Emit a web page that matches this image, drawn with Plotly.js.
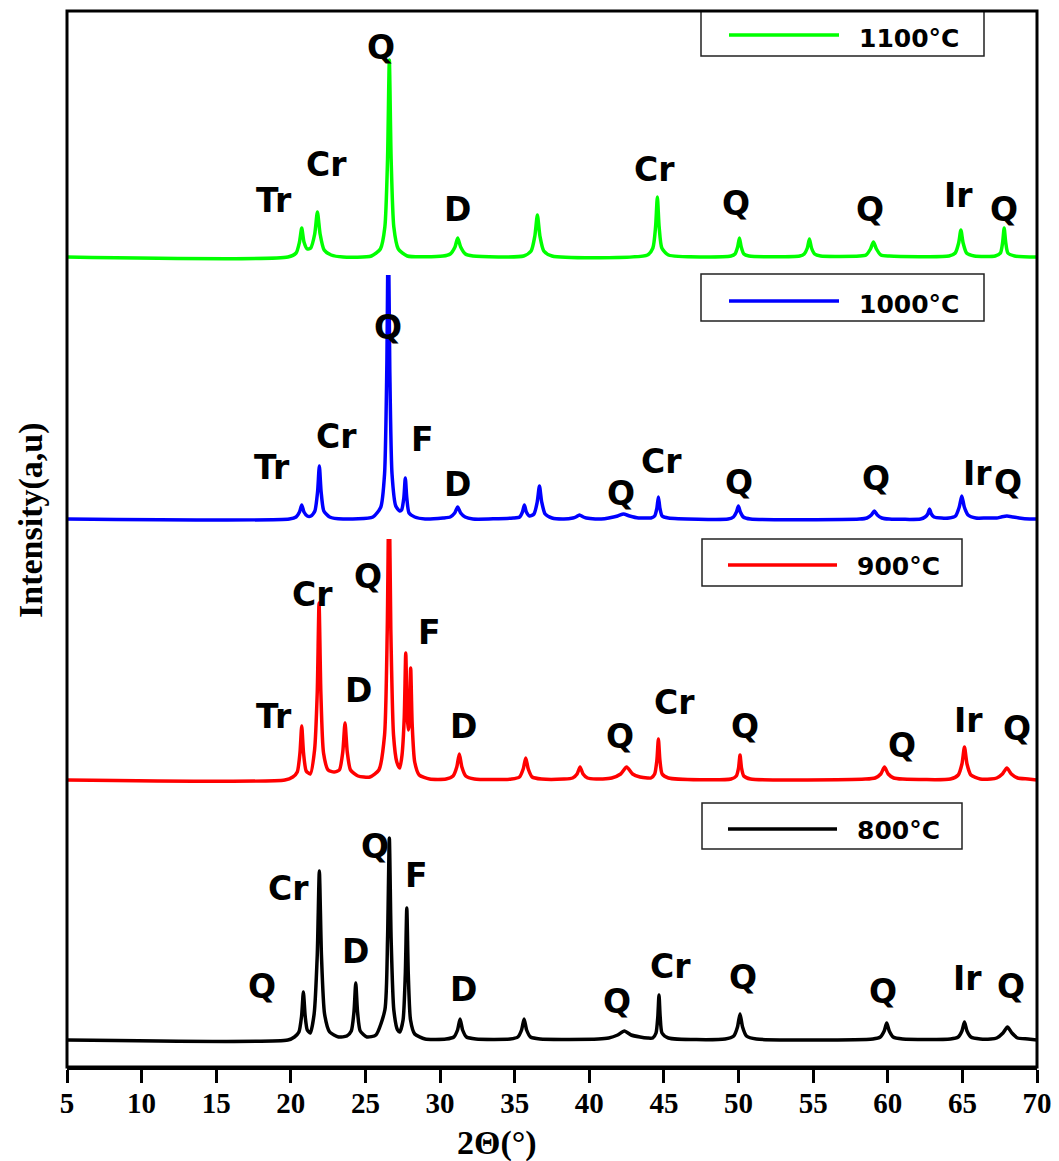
<!DOCTYPE html>
<html><head><meta charset="utf-8">
<script src="https://cdn.plot.ly/plotly-3.0.1.min.js"></script>
<style>html,body{margin:0;padding:0;background:#fff}</style>
</head><body>
<div id="chart" style="width:1059px;height:1161px"></div>
<script>
// ---------- data (2θ in degrees, intensity in a.u. above each pattern's own baseline) ----------
const angle800 = [5,19.8,20.24,20.54,20.72,20.84,20.96,21.1,21.3,
  21.56,21.77,21.91,22.05,22.26,22.6,23.2,
  23.75,24.05,24.23,24.35,24.47,24.65,25.1,
  25.7,26.3,26.48,26.6,26.72,26.9,27.15,27.3,
  27.52,27.67,27.77,27.87,28.02,28.3,29.0,
  30.4,30.92,31.17,31.34,31.51,31.77,32.4,
  34.7,35.21,35.46,35.63,35.8,36.06,36.7,
  40.6,41.3,41.9,42.35,42.8,43.4,43.9,
  44.25,44.47,44.59,44.67,44.75,44.87,45.3,
  49.1,49.68,49.93,50.1,50.27,50.53,51.2,
  59.0,59.5,59.76,59.93,60.1,60.36,61.0,
  64.2,64.72,64.97,65.14,65.31,65.57,66.2,
  66.9,67.3,67.72,68.02,68.32,68.7,69.4,70];
const int800 = [0,0,3,8,24,48,24,10,7,
  26,85,169,85,26,8,3,
  4,9,28,57,28,9,3,
  5,30,101,202,101,30,10,8,
  20,66,132,66,20,6,1,
  1,3,10,21,10,3,1,
  1,3,10,21,10,3,1,
  1,2,5,9,5,3,2,
  2,7,23,45,23,7,2,
  1,4,13,26,13,4,1,
  1,3,9,17,9,3,1,
  1,3,9,18,9,3,1,
  1,2,7,13,7,2,1,0];

const angle900 = [5,19.6,20.13,20.43,20.61,20.73,20.85,21.03,21.3,
  21.59,21.77,21.89,22.01,22.19,22.5,22.9,
  23.25,23.48,23.63,23.78,24.0,24.5,25.3,
  25.9,26.28,26.46,26.58,26.7,26.88,27.1,27.3,
  27.45,27.6,27.7,27.8,27.87,27.93,28.03,28.13,28.3,28.6,29.3,
  30.4,30.87,31.12,31.29,31.46,31.72,32.3,
  34.8,35.32,35.57,35.74,35.91,36.17,36.8,
  38.3,38.88,39.18,39.38,39.58,39.88,40.5,
  40.9,41.5,42.1,42.5,42.9,43.4,43.9,
  44.13,44.38,44.53,44.63,44.73,44.88,45.3,
  49.5,49.85,50.0,50.1,50.2,50.35,50.8,
  58.5,59.15,59.53,59.78,60.03,60.4,61.0,
  64.2,64.72,64.97,65.14,65.31,65.57,66.2,
  66.9,67.3,67.68,67.98,68.28,68.7,69.4,70];
const int900 = [0,0,3,8,27,54,27,9,6,
  30,88,177,88,27,10,8,
  10,28,57,28,10,4,3,
  10,45,150,300,150,45,18,12,
  25,63,127,63,50,56,112,56,18,5,1,
  1,4,13,26,13,4,1,
  1,3,11,22,11,3,1,
  1,2,6,13,6,2,1,
  1,2,6,13,6,3,2,
  2,6,20,41,20,6,2,
  1,4,12,25,12,4,1,
  1,2,6,13,6,2,1,
  1,5,16,33,16,5,1,
  1,2,6,12,6,2,1,0];

const angle1000 = [5,19.9,20.35,20.58,20.73,20.88,21.1,21.35,21.61,21.79,21.91,22.03,22.21,22.6,23.5,
  25.5,26.03,26.28,26.43,26.53,26.63,26.78,27.03,27.3,27.42,27.57,27.67,27.77,27.92,28.3,29.0,
  30.2,30.68,30.98,31.18,31.38,31.68,32.2,
  34.9,35.33,35.52,35.65,35.78,36.0,36.29,36.51,36.66,36.81,37.04,37.5,
  38.3,38.9,39.1,39.34,39.6,39.8,40.4,
  40.8,41.3,41.9,42.29,42.7,43.3,43.8,
  44.13,44.38,44.53,44.63,44.73,44.88,45.3,
  49.3,49.66,49.86,49.99,50.12,50.32,50.8,
  58.1,58.6,58.9,59.1,59.3,59.6,60.1,
  62.2,62.5,62.68,62.8,62.92,63.1,63.6,
  64.1,64.54,64.79,64.96,65.13,65.38,65.9,
  66.6,67.3,67.6,67.98,68.4,68.8,69.5,70];
const int1000 = [0,0,2,7,14,7,3,3,8,27,53,27,8,2,0,
  2,12,45,150,300,150,45,13,8,9,21,41,21,6,2,0,
  1,2,6,12,6,2,0,
  1,2,7,14,7,3,5,17,33,17,5,1,
  0,1,2,4,2,1,0,
  0,1,3,5,3,1,1,
  1,3,11,22,11,3,1,
  0,2,7,13,7,2,0,
  0,1,4,8,4,1,0,
  0,2,5,10,5,2,1,
  1,3,12,23,12,4,1,
  1,1,2,3,2,1,0,0];

const angle1100 = [5,19.8,20.35,20.58,20.73,20.88,21.1,21.33,21.6,21.78,21.96,22.23,22.7,23.5,
  25.4,26.0,26.3,26.48,26.6,26.72,26.9,27.2,27.8,
  30.2,30.68,31.0,31.18,31.38,31.7,32.2,
  35.6,36.1,36.35,36.52,36.69,36.95,37.5,
  43.9,44.26,44.44,44.56,44.68,44.86,45.3,
  49.5,49.76,49.94,50.06,50.18,50.36,50.7,
  54.1,54.4,54.61,54.75,54.89,55.1,55.5,
  58.1,58.54,58.84,59.04,59.24,59.54,60.1,
  64.1,64.52,64.75,64.9,65.05,65.28,65.8,
  67.2,67.55,67.7,67.8,67.9,68.05,68.5,70];
const int1100 = [0,0,4,15,29,15,8,9,23,45,23,7,2,0,
  1,8,30,98,197,98,30,8,1,
  1,3,10,19,10,3,1,
  1,6,21,42,21,6,1,
  2,9,30,60,30,9,2,
  1,3,10,19,10,3,1,
  1,3,9,18,9,3,1,
  1,2,8,15,8,2,1,
  1,4,14,27,14,4,1,
  1,4,15,29,15,4,1,0];

// phase labels (text, 2θ, height above baseline)
const labels1100 = ['Tr','Cr','Q','D','Cr','Q','Q','Ir','Q'];
const labelX1100 = [18.87,22.36,26.04,31.2,44.4,49.83,58.81,64.77,67.79];
const labelY1100 = [57,93,210,48,88,54,48,62,48];
const labels1000 = ['Tr','Cr','Q','F','D','Q','Cr','Q','Q','Ir','Q'];
const labelX1000 = [18.74,23.03,26.51,28.79,31.2,42.12,44.87,50.03,59.21,65.98,68.06];
const labelY1000 = [52,83,192,80,35,26,58,37,41,46,37];
const labels900 = ['Tr','Cr','D','Q','F','D','Q','Cr','Q','Q','Ir','Q'];
const labelX900 = [18.87,21.48,24.5,25.17,29.26,31.54,42.06,45.68,50.43,60.95,65.44,68.66];
const labelY900 = [64,186,90,204,148,54,44,78,54,35,60,52];
const labels800 = ['Q','Cr','D','Q','F','D','Q','Cr','Q','Q','Ir','Q'];
const labelX800 = [18.07,19.81,24.3,25.64,28.45,31.54,41.86,45.47,50.3,59.68,65.31,68.26];
const labelY800 = [54,152,89,194,165,51,39,74,63,49,62,54];

const seriesNames = ['800°C','900°C','1000°C','1100°C'];
const xTitle = '2Θ(°)';
const yTitle = 'Intensity(a,u)';

// ---------- layout helpers ----------
const L = 67, R = 1037, T = 11, B = 1067;
const px = x => (x - L) / (R - L);
const py = y => (B - y) / (B - T);

const colors = ['#000000', '#ff0000', '#0000ff', '#00ff00'];
const yaxes = ['y', 'y2', 'y3', 'y4'];
const xs = [angle800, angle900, angle1000, angle1100];
const ys = [int800, int900, int1000, int1100];

const traces = xs.map((x, i) => ({
  x: x, y: ys[i], xaxis: 'x', yaxis: yaxes[i], type: 'scatter', mode: 'lines',
  name: seriesNames[i], showlegend: false, hoverinfo: 'skip',
  line: { color: colors[i], width: 3.5, shape: 'spline', smoothing: 0.6 }
}));

const labelFont = { family: 'DejaVu Sans, Arial, sans-serif', size: 33, color: '#000' };
const annotations = [];
const labSets = [[labels800, labelX800, labelY800], [labels900, labelX900, labelY900],
                 [labels1000, labelX1000, labelY1000], [labels1100, labelX1100, labelY1100]];
labSets.forEach((s, i) => {
  s[0].forEach((t, k) => {
    annotations.push({ text: '<b>' + t + '</b>', x: s[1][k], y: s[2][k], xref: 'x', yref: yaxes[i],
      showarrow: false, xanchor: 'center', yanchor: 'middle', font: labelFont });
  });
});

// legend boxes (one per stacked panel), pixel geometry
const legendBoxes = [
  { x0: 702, x1: 962, y0: 803, y1: 849, lx0: 728, lx1: 837, ly: 829, tx: 898, ty: 830 },
  { x0: 702, x1: 962, y0: 539, y1: 586, lx0: 728, lx1: 837, ly: 565, tx: 898, ty: 566 },
  { x0: 701, x1: 984, y0: 274, y1: 321, lx0: 729, lx1: 839, ly: 301, tx: 909, ty: 304 },
  { x0: 701, x1: 984, y0: 11, y1: 56, lx0: 729, lx1: 839, ly: 35, tx: 909, ty: 39 }
];
const shapes = [];
legendBoxes.forEach((b, i) => {
  shapes.push({ type: 'rect', xref: 'paper', yref: 'paper', x0: px(b.x0), x1: px(b.x1), y0: py(b.y1), y1: py(b.y0),
    line: { color: '#222', width: 1.5 }, fillcolor: 'rgba(0,0,0,0)', layer: 'above' });
  shapes.push({ type: 'line', xref: 'paper', yref: 'paper', x0: px(b.lx0), x1: px(b.lx1), y0: py(b.ly), y1: py(b.ly),
    line: { color: colors[i], width: 3.5 }, layer: 'above' });
  annotations.push({ text: '<b>' + seriesNames[i] + '</b>', xref: 'paper', yref: 'paper', x: px(b.tx), y: py(b.ty),
    showarrow: false, xanchor: 'center', yanchor: 'middle',
    font: { family: 'DejaVu Sans, Arial, sans-serif', size: 25, color: '#000' } });
});
// outer frame
shapes.push({ type: 'rect', xref: 'paper', yref: 'paper', x0: 0, x1: 1, y0: 0, y1: 1,
  line: { color: '#000', width: 3 }, fillcolor: 'rgba(0,0,0,0)', layer: 'above' });

// axis titles
annotations.push({ text: '<b>' + xTitle + '</b>', xref: 'paper', yref: 'paper', x: px(497), y: py(1143),
  showarrow: false, xanchor: 'center', yanchor: 'middle',
  font: { family: 'Liberation Serif, Times New Roman, serif', size: 34, color: '#000' } });
annotations.push({ text: '<b>' + yTitle + '</b>', xref: 'paper', yref: 'paper', x: px(31), y: py(520),
  showarrow: false, xanchor: 'center', yanchor: 'middle', textangle: -90,
  font: { family: 'Liberation Serif, Times New Roman, serif', size: 34, color: '#000' } });

const hidden = { visible: false, fixedrange: true, showgrid: false, zeroline: false };
const layout = {
  width: 1059, height: 1161,
  margin: { l: 67, r: 22, t: 11, b: 94 },
  paper_bgcolor: '#fff', plot_bgcolor: '#fff',
  showlegend: false,
  xaxis: {
    range: [5, 70], tick0: 5, dtick: 5, ticks: 'outside', ticklen: 13, tickwidth: 3, tickcolor: '#000',
    ticklabelstandoff: -5,
    showline: true, linewidth: 3, linecolor: '#000', showgrid: false, zeroline: false, anchor: 'y',
    tickfont: { family: 'Liberation Serif, Times New Roman, serif', size: 29, color: '#000', weight: 'bold' },
    fixedrange: true
  },
  yaxis: Object.assign({ domain: [0, 0.25], range: [-27, 237] }, hidden),
  yaxis2: Object.assign({ domain: [0.25, 0.5], range: [-23, 241], anchor: 'x' }, hidden),
  yaxis3: Object.assign({ domain: [0.5, 0.75], range: [-20, 244], anchor: 'x' }, hidden),
  yaxis4: Object.assign({ domain: [0.75, 1], range: [-18, 246], anchor: 'x' }, hidden),
  shapes: shapes,
  annotations: annotations
};

Plotly.newPlot('chart', traces, layout, { staticPlot: true, displayModeBar: false });
</script>
</body></html>
